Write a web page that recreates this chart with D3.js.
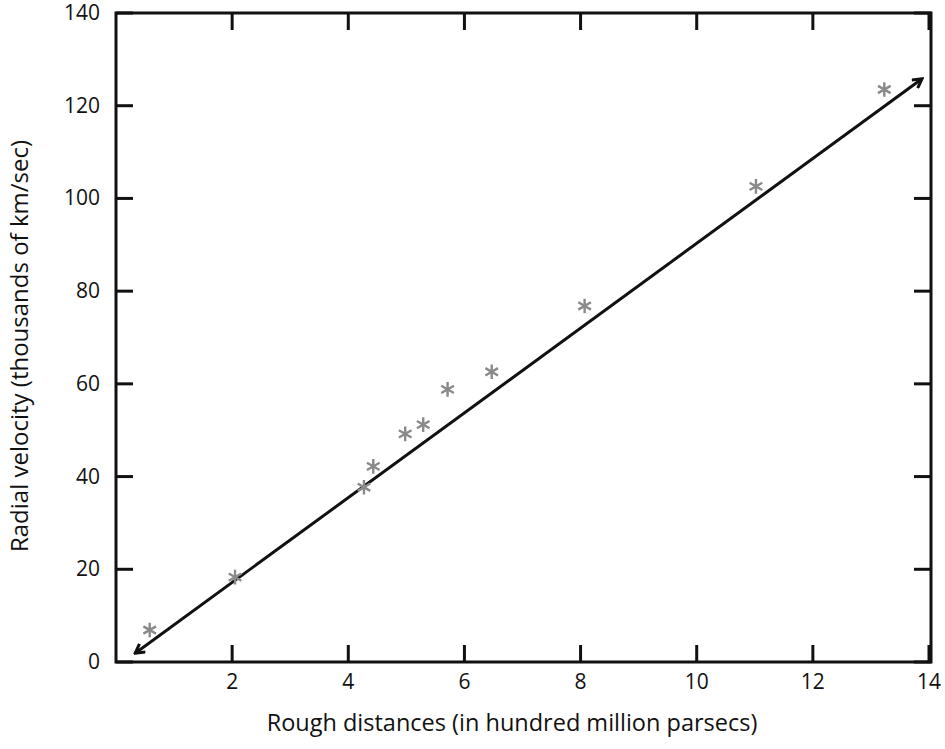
<!DOCTYPE html>
<html>
<head>
<meta charset="utf-8">
<script src="https://cdn.jsdelivr.net/npm/d3@7"></script>
<style>
  body { margin: 0; background: #fff; }
  text { font-family: "Open Sans", "DejaVu Sans", sans-serif; fill: #111; }
</style>
</head>
<body>
<script>
// galaxy distances (hundred million parsecs) and radial velocities (thousands km/s)
const distances = [0.58, 2.05, 4.27, 4.43, 4.98, 5.29, 5.71, 6.47, 8.07, 11.02, 13.23]
const velocities = [6.9, 18.3, 37.7, 42.2, 49.2, 51.2, 58.8, 62.6, 76.8, 102.6, 123.5]
// fit line end points
const lineX = [0.33, 13.88]
const lineY = [1.9, 125.8]
const xTicks = [2, 4, 6, 8, 10, 12, 14]
const yTicks = [0, 20, 40, 60, 80, 100, 120, 140]

const w = 945
const h = 749
const plotL = 116, plotR = 931, plotT = 13, plotB = 662

const svg = d3.select("body").append("svg").attr("width", w).attr("height", h)

const xScale = d3.scaleLinear().domain([0, 14]).range([plotL, 929])
const yScale = d3.scaleLinear().domain([0, 140]).range([plotB, plotT])

// ticks pointing inward on all four sides
const tickLen = 17
const frame = svg.append("g").attr("stroke", "#111").attr("stroke-width", 3)

frame.selectAll(".xb").data(xTicks).enter().append("line")
    .attr("x1", d => xScale(d)).attr("x2", d => xScale(d))
    .attr("y1", plotB).attr("y2", plotB - tickLen)
frame.selectAll(".xt").data(xTicks).enter().append("line")
    .attr("x1", d => xScale(d)).attr("x2", d => xScale(d))
    .attr("y1", plotT).attr("y2", plotT + tickLen)
frame.selectAll(".yl").data(yTicks).enter().append("line")
    .attr("x1", plotL).attr("x2", plotL + tickLen)
    .attr("y1", d => yScale(d)).attr("y2", d => yScale(d))
frame.selectAll(".yr").data(yTicks).enter().append("line")
    .attr("x1", plotR).attr("x2", plotR - tickLen)
    .attr("y1", d => yScale(d)).attr("y2", d => yScale(d))

frame.append("rect")
    .attr("x", plotL).attr("y", plotT)
    .attr("width", plotR - plotL).attr("height", plotB - plotT)
    .attr("fill", "none")

// tick labels
svg.selectAll(".xl").data(xTicks).enter().append("text")
    .attr("x", d => xScale(d))
    .attr("y", 689)
    .attr("text-anchor", "middle")
    .attr("font-size", 21)
    .text(d => d)
svg.selectAll(".ylab").data(yTicks).enter().append("text")
    .attr("x", 100)
    .attr("y", d => yScale(d) + 7)
    .attr("text-anchor", "end")
    .attr("font-size", 21)
    .text(d => d)

// axis titles
svg.append("text")
    .attr("x", 512).attr("y", 731)
    .attr("text-anchor", "middle")
    .attr("font-size", 23.5)
    .text("Rough distances (in hundred million parsecs)")
svg.append("text")
    .attr("transform", "translate(28,346) rotate(-90)")
    .attr("text-anchor", "middle")
    .attr("font-size", 24)
    .text("Radial velocity (thousands of km/sec)")

// arrow marker
svg.append("defs").append("marker")
    .attr("id", "arr")
    .attr("viewBox", "-10 -6 12 12")
    .attr("markerWidth", 12).attr("markerHeight", 12)
    .attr("markerUnits", "userSpaceOnUse")
    .attr("refX", 0).attr("refY", 0)
    .attr("orient", "auto-start-reverse")
    .append("path")
    .attr("d", "M-9,-5 L0,0 L-9,5")
    .attr("fill", "none").attr("stroke", "#111").attr("stroke-width", 3)

const pts = lineX.map((x, i) => [xScale(x), yScale(lineY[i])])
svg.append("path")
    .attr("d", d3.line()(pts))
    .attr("stroke", "#111").attr("stroke-width", 3).attr("fill", "none")
    .attr("marker-start", "url(#arr)")
    .attr("marker-end", "url(#arr)")

// data points as asterisks
const star = d3.symbol().type(d3.symbolAsterisk).size(150)
svg.selectAll(".pt").data(distances).enter().append("path")
    .attr("d", star)
    .attr("transform", (d, i) => "translate(" + xScale(d) + "," + yScale(velocities[i]) + ")")
    .attr("fill", "none")
    .attr("stroke", "#8a8a8a")
    .attr("stroke-width", 2.4)
</script>
</body>
</html>
